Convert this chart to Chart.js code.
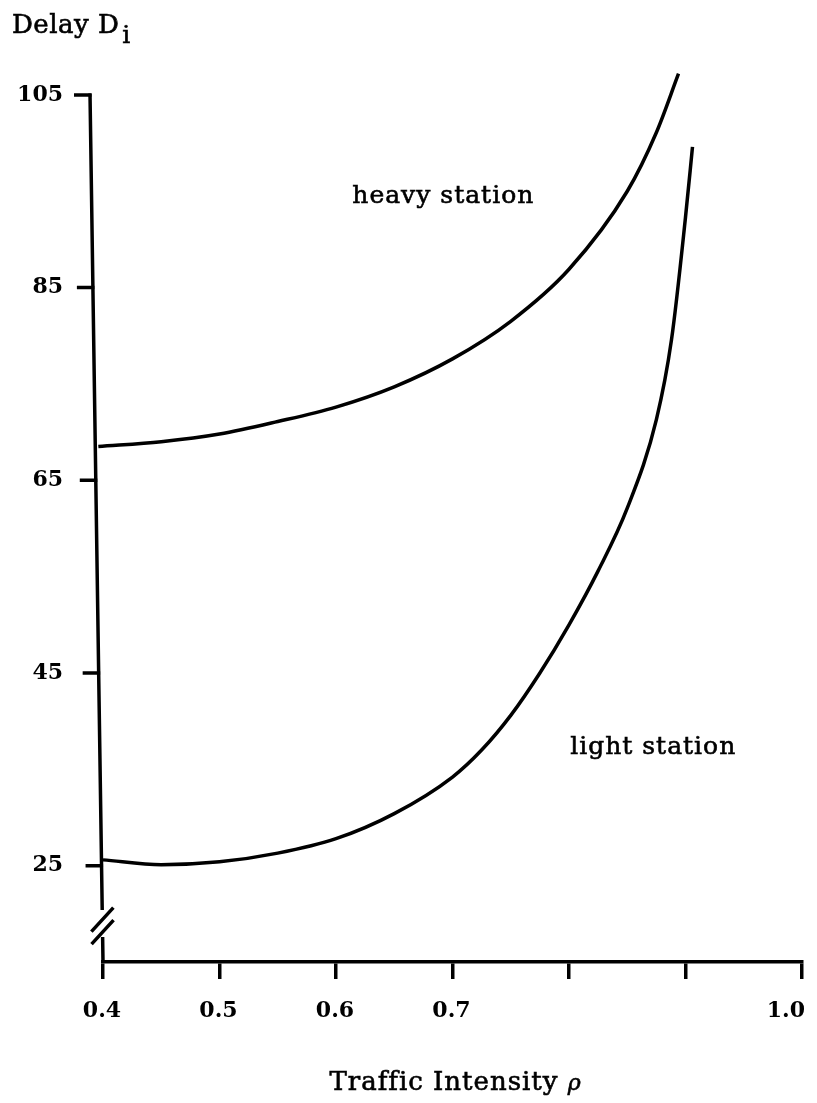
<!DOCTYPE html>
<html>
<head>
<meta charset="utf-8">
<title>Delay vs Traffic Intensity</title>
<script src="https://cdn.jsdelivr.net/npm/chart.js@4"></script>
<style>
  html, body { margin: 0; padding: 0; background: #ffffff; }
  #wrap { position: relative; width: 817px; height: 1103px; }
</style>
</head>
<body>
<div id="wrap"><canvas id="c" width="817" height="1103"></canvas></div>
<script>
// Delay of the heavy station against traffic intensity
const heavyRho   = [0.396, 0.45, 0.50, 0.55, 0.60, 0.65, 0.70, 0.75, 0.80, 0.85, 0.875, 0.894];
const heavyDelay = [68.5, 69.0, 69.8, 71.1, 72.6, 74.7, 77.6, 81.5, 86.9, 95.0, 101.1, 107.2];

// Delay of the light station against traffic intensity
const lightRho   = [0.40, 0.45, 0.50, 0.55, 0.60, 0.65, 0.70, 0.725, 0.75, 0.775, 0.80, 0.825, 0.85, 0.875, 0.888, 0.900, 0.906];
const lightDelay = [25.6, 25.1, 25.4, 26.3, 27.8, 30.4, 34.2, 37.0, 40.6, 45.0, 50.0, 55.6, 62.1, 71.3, 79.6, 92.3, 99.6];

// Axis ticks
const delayTicks = [25, 45, 65, 85, 105];
const rhoTicks = [0.4, 0.5, 0.6, 0.7, 0.8, 0.9, 1.0];
const rhoTickLabels = ['0.4', '0.5', '0.6', '0.7', '', '', '1.0'];

// Curve names, anchored in data units (left edge, baseline)
const curveNames = [
  { text: 'heavy station', rho: 0.614, delay: 93.8 },
  { text: 'light station', rho: 0.801, delay: 36.6 }
];

const SERIF = '"DejaVu Serif", "Liberation Serif", serif';
const LW = 3.5;

const toPoints = (xs, ys) => xs.map((x, i) => ({ x: x, y: ys[i] }));

// Text with a thin outline so it reads as heavily as printed type
function inkText(ctx, text, x, y) {
  ctx.fillText(text, x, y);
  ctx.lineWidth = 0.6;
  ctx.strokeText(text, x, y);
}

// Hand-drawn style y axis (slightly slanted, with a scale break), labels and titles
const axisDecor = {
  id: 'axisDecor',
  afterDraw(chart) {
    const ctx = chart.ctx;
    const xs = chart.scales.x, ys = chart.scales.y;
    const x0 = xs.getPixelForValue(0.4);
    const yTop = ys.getPixelForValue(105);
    const yBot = ys.getPixelForValue(15);
    const slant = 13;
    const axisX = y => x0 - slant * (yBot - y) / (yBot - yTop);

    ctx.save();
    ctx.strokeStyle = '#000';
    ctx.fillStyle = '#000';
    ctx.lineWidth = LW;
    ctx.lineCap = 'butt';

    // vertical axis, interrupted by the break
    const yBreakHi = ys.getPixelForValue(20.4);
    const yBreakLo = ys.getPixelForValue(17.6);
    ctx.beginPath();
    ctx.moveTo(axisX(yTop), yTop - 1.5);
    ctx.lineTo(axisX(yBreakHi), yBreakHi);
    ctx.moveTo(axisX(yBreakLo), yBreakLo);
    ctx.lineTo(x0, yBot);
    ctx.stroke();

    // y tick marks
    ctx.beginPath();
    delayTicks.forEach(v => {
      const y = ys.getPixelForValue(v);
      ctx.moveTo(axisX(y) - 16, y);
      ctx.lineTo(axisX(y) + 1.5, y);
    });
    ctx.stroke();

    // break marks
    ctx.beginPath();
    [19.4, 18.1].forEach(v => {
      const cy = ys.getPixelForValue(v);
      const cx = axisX(cy);
      ctx.moveTo(cx - 11, cy + 12);
      ctx.lineTo(cx + 11, cy - 12);
    });
    ctx.stroke();

    // x tick labels
    ctx.font = 'bold 22px ' + SERIF;
    ctx.textBaseline = 'alphabetic';
    rhoTicks.forEach((v, i) => {
      const t = rhoTickLabels[i];
      if (!t) return;
      const px = xs.getPixelForValue(v);
      if (i === rhoTicks.length - 1) {
        ctx.textAlign = 'right';
        ctx.fillText(t, px + 3, yBot + 55);
      } else {
        ctx.textAlign = 'center';
        ctx.fillText(t, px - 1, yBot + 55);
      }
    });

    // x axis title
    ctx.letterSpacing = '1px';
    const main = 'Traffic Intensity ';
    ctx.font = '26px ' + SERIF;
    const wMain = ctx.measureText(main).width;
    ctx.font = 'italic 22px ' + SERIF;
    const wRho = ctx.measureText('ρ').width;
    const cx = (xs.left + xs.right) / 2 + 3;
    const tx = cx - (wMain + wRho) / 2;
    ctx.textAlign = 'left';
    ctx.font = '26px ' + SERIF;
    inkText(ctx, main, tx, 1090);
    ctx.font = 'italic 22px ' + SERIF;
    inkText(ctx, 'ρ', tx + wMain, 1090);

    // y axis title
    ctx.letterSpacing = '0.5px';
    ctx.font = '26px ' + SERIF;
    inkText(ctx, 'Delay D', 12, 33);
    const wD = ctx.measureText('Delay D').width;
    ctx.font = '25px ' + SERIF;
    inkText(ctx, 'i', 12 + wD + 3, 43);

    // curve names
    ctx.letterSpacing = '1px';
    ctx.font = '25px ' + SERIF;
    curveNames.forEach(c => {
      inkText(ctx, c.text, xs.getPixelForValue(c.rho), ys.getPixelForValue(c.delay));
    });

    ctx.restore();
  }
};

new Chart(document.getElementById('c'), {
  type: 'line',
  data: {
    datasets: [
      {
        label: 'heavy station',
        data: toPoints(heavyRho, heavyDelay),
        borderColor: '#000',
        borderWidth: LW,
        pointRadius: 0,
        fill: false,
        cubicInterpolationMode: 'monotone',
        clip: false
      },
      {
        label: 'light station',
        data: toPoints(lightRho, lightDelay),
        borderColor: '#000',
        borderWidth: LW,
        pointRadius: 0,
        fill: false,
        cubicInterpolationMode: 'monotone',
        clip: false
      }
    ]
  },
  options: {
    responsive: false,
    animation: false,
    devicePixelRatio: 1,
    layout: { padding: { top: 66, right: 15, left: 0, bottom: 0 } },
    plugins: {
      legend: { display: false },
      tooltip: { enabled: false }
    },
    scales: {
      x: {
        type: 'linear',
        min: 0.4,
        max: 1.0,
        afterBuildTicks: s => { s.ticks = rhoTicks.map(v => ({ value: v })); },
        afterFit: s => { s.height = 141; s.paddingLeft = 0; s.paddingRight = 0; },
        grid: {
          display: true,
          drawOnChartArea: false,
          drawTicks: true,
          tickLength: 17,
          color: '#000',
          lineWidth: LW
        },
        border: { display: true, color: '#000', width: LW },
        ticks: { display: false }
      },
      y: {
        type: 'linear',
        min: 15,
        max: 108,
        afterBuildTicks: s => { s.ticks = delayTicks.map(v => ({ value: v })); },
        afterFit: s => { s.width = 103; s.paddingTop = 0; s.paddingBottom = 0; },
        grid: { display: false, drawTicks: false },
        border: { display: false },
        ticks: {
          color: '#000',
          padding: 40,
          font: { family: SERIF, size: 22, weight: 'bold' }
        }
      }
    }
  },
  plugins: [axisDecor]
});
</script>
</body>
</html>
